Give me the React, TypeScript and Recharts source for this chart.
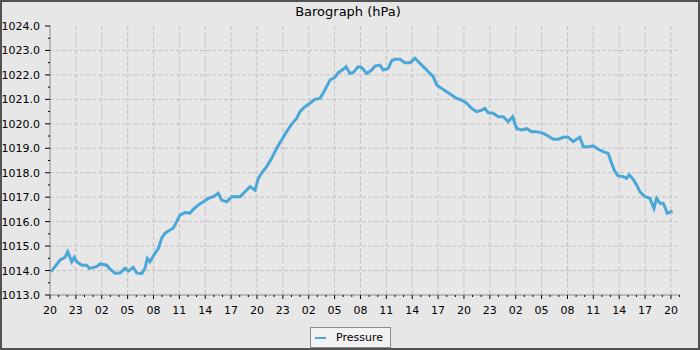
import React from 'react'
import {
  LineChart,
  Line,
  XAxis,
  YAxis,
  CartesianGrid,
  Legend
} from 'recharts'

// hours since the first 20:00 reading
const hours = [
  0.1, 0.58, 1.16, 1.74, 2.05, 2.52, 2.82, 3.1, 3.68, 4.26, 4.56, 5.41, 5.8, 6.57, 6.96,
  7.54, 8.12, 8.7, 9.08, 9.66, 10.05, 10.63, 11.01, 11.28, 11.59, 12.17, 12.56, 12.95,
  13.33, 13.91, 14.3, 14.69, 15.07, 15.65, 16.23, 16.61, 17.19, 17.77, 18.35, 18.93,
  19.51, 19.9, 20.49, 21.07, 21.65, 22.03, 22.61, 23.19, 23.77, 24.15, 24.54, 25.12,
  25.7, 26.28, 26.86, 27.44, 28.02, 28.6, 28.99, 29.57, 30.14, 30.72, 31.3, 31.69,
  32.08, 32.46, 33.04, 33.43, 34.01, 34.32, 34.78, 35.17, 35.74, 36.14, 36.72, 37.3,
  37.68, 38.26, 38.64, 39.22, 39.62, 40.0, 40.58, 41.16, 41.74, 42.32, 42.9, 43.48,
  44.06, 44.44, 44.84, 45.41, 45.99, 46.57, 47.15, 47.73, 48.31, 48.89, 49.47, 50.05,
  50.43, 50.82, 51.4, 51.98, 52.56, 53.14, 53.65, 54.11, 54.69, 55.27, 55.85, 56.43,
  57.2, 57.77, 58.35, 58.93, 59.51, 60.09, 60.67, 61.06, 61.45, 61.83, 62.41, 62.99,
  63.57, 64.15, 64.73, 65.12, 65.51, 65.89, 66.47, 66.86, 67.16, 67.63, 68.02, 68.41,
  68.99, 69.57, 70.03, 70.34, 70.72, 71.1, 71.3, 71.57, 71.96, 72.2
]

const pressure = [
  1013.95, 1014.16, 1014.43, 1014.54, 1014.77, 1014.36, 1014.54, 1014.36, 1014.22, 1014.22,
  1014.09, 1014.16, 1014.27, 1014.22, 1014.06, 1013.89, 1013.9, 1014.09, 1013.98, 1014.13,
  1013.9, 1013.87, 1014.09, 1014.5, 1014.36, 1014.7, 1014.9, 1015.32, 1015.52, 1015.66,
  1015.74, 1016.0, 1016.27, 1016.37, 1016.35, 1016.5, 1016.68, 1016.81, 1016.95, 1017.02,
  1017.16, 1016.88, 1016.81, 1017.02, 1017.02, 1017.02, 1017.22, 1017.43, 1017.29, 1017.77,
  1017.98, 1018.25, 1018.59, 1019.0, 1019.34, 1019.68, 1019.99, 1020.22, 1020.5, 1020.7,
  1020.84, 1021.0, 1021.04, 1021.27, 1021.52, 1021.79, 1021.9, 1022.09, 1022.23, 1022.34,
  1022.06, 1022.1, 1022.34, 1022.3, 1022.06, 1022.2, 1022.36, 1022.4, 1022.2, 1022.27,
  1022.58, 1022.64, 1022.64, 1022.5, 1022.5, 1022.68, 1022.47, 1022.27, 1022.06, 1021.93,
  1021.59, 1021.45, 1021.31, 1021.18, 1021.04, 1020.97, 1020.84, 1020.63, 1020.5, 1020.56,
  1020.63, 1020.45, 1020.43, 1020.29, 1020.29, 1020.09, 1020.29, 1019.81, 1019.75, 1019.8,
  1019.68, 1019.68, 1019.61, 1019.5, 1019.37, 1019.37, 1019.45, 1019.45, 1019.27, 1019.37,
  1019.45, 1019.06, 1019.06, 1019.1, 1018.96, 1018.86, 1018.79, 1018.38, 1018.04, 1017.87,
  1017.84, 1017.77, 1017.91, 1017.73, 1017.5, 1017.22, 1017.02, 1016.95, 1016.54, 1016.95,
  1016.75, 1016.75, 1016.6, 1016.34, 1016.4, 1016.43
]

// clock labels for every 3rd hour
const xLabels = [
  '20', '23', '02', '05', '08', '11', '14', '17',
  '20', '23', '02', '05', '08', '11', '14', '17',
  '20', '23', '02', '05', '08', '11', '14', '17', '20'
]

const X_DOMAIN: [number, number] = [0, 73.05]
const Y_DOMAIN: [number, number] = [1013, 1024]

const xMinorTicks = Array.from({ length: 74 }, (_, i) => i)
const xMajorTicks = xLabels.map((_, i) => i * 3)
const yMinorTicks = Array.from({ length: 23 }, (_, i) => 1013 + i * 0.5)
const yMajorTicks = Array.from({ length: 12 }, (_, i) => 1013 + i)

const data = hours.map((h, i) => ({ h, p: pressure[i] }))

const FONT = '"DejaVu Sans", sans-serif'
const AXIS = '#8a8a8a'
const BLUE = '#4ba7d8'

// grid only on the major ticks (the axes carry hourly / half-hPa minor ticks)
const gridX = ({ offset }: any) =>
  xMajorTicks
    .filter((t) => t > X_DOMAIN[0])
    .map((t) => offset.left + ((t - X_DOMAIN[0]) / (X_DOMAIN[1] - X_DOMAIN[0])) * offset.width)

const gridY = ({ offset }: any) =>
  yMajorTicks
    .filter((t) => t > Y_DOMAIN[0] && t < Y_DOMAIN[1])
    .map((t) => offset.top + ((Y_DOMAIN[1] - t) / (Y_DOMAIN[1] - Y_DOMAIN[0])) * offset.height)

const XTick = ({ x, y, payload }: any) => {
  const v = payload.value
  const major = v % 3 === 0
  return (
    <g>
      <line x1={x} x2={x} y1={y} y2={y + (major ? 4 : 2)} stroke="#000" strokeWidth={1} />
      {major && (
        <text x={x} y={y + 19} textAnchor="middle" fontSize={11} fontFamily={FONT} fill="#000">
          {xLabels[v / 3]}
        </text>
      )}
    </g>
  )
}

const YTick = ({ x, y, payload }: any) => {
  const v = payload.value
  const major = Number.isInteger(v)
  return (
    <g>
      <line x1={x - (major ? 5 : 2)} x2={x} y1={y} y2={y} stroke="#000" strokeWidth={1} />
      {major && (
        <text x={x - 10} y={y + 4} textAnchor="end" fontSize={11} fontFamily={FONT} fill="#000">
          {v.toFixed(1)}
        </text>
      )}
    </g>
  )
}

const LegendBox = () => (
  <div
    style={{
      boxSizing: 'border-box',
      width: 81,
      height: 21,
      border: '1px solid #8c8c8c',
      background: '#f2f2f2',
      display: 'flex',
      alignItems: 'center',
      fontFamily: FONT,
      fontSize: 11,
      color: '#000'
    }}
  >
    <span style={{ display: 'inline-block', width: 11, height: 2, background: BLUE, marginLeft: 4, marginRight: 10 }} />
    <span>Pressure</span>
  </div>
)

export default function App() {
  return (
    <div
      style={{
        position: 'absolute',
        left: 0,
        top: 0,
        width: 700,
        height: 350,
        background: '#e7e7e7',
        boxShadow: 'inset 0 0 0 2px #525252'
      }}
    >
      <div
        style={{
          position: 'absolute',
          top: 5,
          left: 0,
          width: 696,
          textAlign: 'center',
          fontFamily: FONT,
          fontSize: 13,
          lineHeight: '13px',
          color: '#000'
        }}
      >
        Barograph (hPa)
      </div>
      <LineChart
        width={700}
        height={350}
        data={data}
        margin={{ top: 26, right: 20, bottom: 25, left: 0 }}
      >
        <CartesianGrid
          stroke="#c3c3c3"
          strokeDasharray="4 2"
          verticalCoordinatesGenerator={gridX}
          horizontalCoordinatesGenerator={gridY}
        />
        <XAxis
          dataKey="h"
          type="number"
          domain={X_DOMAIN}
          ticks={xMinorTicks}
          interval={0}
          allowDataOverflow
          height={30}
          tickSize={0}
          tickMargin={0}
          tickLine={false}
          axisLine={{ stroke: AXIS }}
          tick={<XTick />}
        />
        <XAxis
          xAxisId="top"
          dataKey="h"
          type="number"
          orientation="top"
          domain={X_DOMAIN}
          height={0}
          tick={false}
          tickLine={false}
          axisLine={{ stroke: AXIS }}
        />
        <YAxis
          type="number"
          domain={Y_DOMAIN}
          ticks={yMinorTicks}
          interval={0}
          allowDataOverflow
          width={50}
          tickSize={0}
          tickMargin={0}
          tickLine={false}
          axisLine={{ stroke: AXIS }}
          tick={<YTick />}
        />
        <YAxis
          yAxisId="right"
          type="number"
          orientation="right"
          domain={Y_DOMAIN}
          width={0}
          tick={false}
          tickLine={false}
          axisLine={{ stroke: AXIS }}
        />
        <Legend
          verticalAlign="middle"
          layout="horizontal"
          wrapperStyle={{ left: 310, top: 327, width: 81, height: 21 }}
          content={<LegendBox />}
        />
        <Line
          type="linear"
          dataKey="p"
          name="Pressure"
          stroke={BLUE}
          strokeWidth={3}
          strokeLinejoin="miter"
          dot={false}
          activeDot={false}
          isAnimationActive={false}
        />
      </LineChart>
    </div>
  )
}
